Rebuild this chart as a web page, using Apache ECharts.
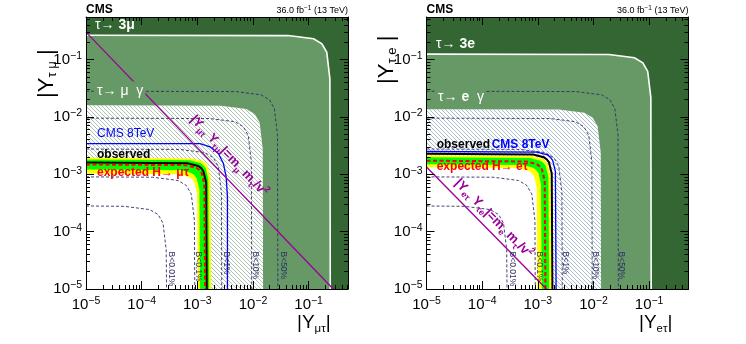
<!DOCTYPE html>
<html>
<head>
<meta charset="utf-8">
<script src="https://cdn.jsdelivr.net/npm/echarts@6.0.0/dist/echarts.min.js"></script>
<style>
html,body{margin:0;padding:0;background:#fff}
#main{width:746px;height:344px}
</style>
</head>
<body>
<div id="main"></div>
<script>
// axis ranges and tick labels
var XMIN = 1e-5, XMAX = 0.51, YMIN = 1e-5, YMAX = 0.55;
var majorTicks = [1e-5, 1e-4, 1e-3, 1e-2, 1e-1];

// branching-ratio contours (same in both panels)
var bNames = ['B<0.01%', 'B<0.1%', 'B<1%', 'B<10%', 'B<50%'];
var b0001 = [[1e-5,2.8e-4],[4.87e-5,2.76e-4],[1.4e-4,2.42e-4],[1.98e-4,1.98e-4],[2.42e-4,1.4e-4],[2.76e-4,4.87e-5],[2.8e-4,1e-5]];
var b001 = [[1e-5,9e-4],[1.57e-4,8.87e-4],[4.5e-4,7.79e-4],[6.36e-4,6.36e-4],[7.79e-4,4.5e-4],[8.87e-4,1.57e-4],[9e-4,1e-5]];
var b01 = [[1e-5,2.75e-3],[4.79e-4,2.71e-3],[1.375e-3,2.38e-3],[1.94e-3,1.94e-3],[2.38e-3,1.375e-3],[2.71e-3,4.79e-4],[2.75e-3,1e-5]];
var b10 = [[1e-5,9.5e-3],[1.65e-3,9.36e-3],[4.75e-3,8.23e-3],[6.72e-3,6.72e-3],[8.23e-3,4.75e-3],[9.36e-3,1.65e-3],[9.5e-3,1e-5]];
var b50 = [[1e-5,2.8e-2],[4.87e-3,2.76e-2],[1.4e-2,2.42e-2],[1.98e-2,1.98e-2],[2.42e-2,1.4e-2],[2.76e-2,4.87e-3],[2.8e-2,1e-5]];

// left panel: mu-tau
var mtTau3mu = [[1e-5,0.265],[0.043,0.261],[0.123,0.230],[0.173,0.187],[0.212,0.133],[0.241,0.046],[0.245,1e-5]];
var mtTauMuG = [[1e-5,0.0159],[2.64e-3,1.566e-2],[7.6e-3,1.377e-2],[1.075e-2,1.124e-2],[1.316e-2,7.95e-3],[1.497e-2,2.77e-3],[0.0152,1e-5]];
var mtCms8 = [[1e-5,3.43e-3],[1.12e-3,3.43e-3],[1.70e-3,2.99e-3],[2.39e-3,2.30e-3],[2.94e-3,1.54e-3],[3.30e-3,8.97e-4],[3.48e-3,4.02e-4],[3.48e-3,1e-5]];
var mtYelOut = [[1e-5,1.95e-3],[7.97e-4,1.89e-3],[1.24e-3,1.70e-3],[1.41e-3,1.55e-3],[1.54e-3,1.37e-3],[1.72e-3,8.78e-4],[1.77e-3,1e-5]];
var mtGrnOut = [[1e-5,1.80e-3],[7.34e-4,1.75e-3],[1.14e-3,1.57e-3],[1.29e-3,1.43e-3],[1.42e-3,1.26e-3],[1.58e-3,8.1e-4],[1.63e-3,1e-5]];
var mtObs = [[1e-5,1.60e-3],[6.66e-4,1.55e-3],[1.04e-3,1.39e-3],[1.18e-3,1.27e-3],[1.29e-3,1.12e-3],[1.44e-3,7.2e-4],[1.48e-3,1e-5]];
var mtExp = [[1e-5,1.48e-3],[6.21e-4,1.44e-3],[9.66e-4,1.29e-3],[1.10e-3,1.18e-3],[1.20e-3,1.04e-3],[1.34e-3,6.66e-4],[1.38e-3,1e-5]];
var mtGrnIn = [[1e-5,1.21e-3],[5.04e-4,1.17e-3],[7.84e-4,1.05e-3],[8.89e-4,9.61e-4],[9.74e-4,8.47e-4],[1.09e-3,5.45e-4],[1.12e-3,1e-5]];
var mtYelIn = [[1e-5,1.03e-3],[4.59e-4,9.99e-4],[7.14e-4,8.96e-4],[8.10e-4,8.18e-4],[8.87e-4,7.21e-4],[9.89e-4,4.64e-4],[1.02e-3,1e-5]];
var mtYukawa = [[1e-5,0.30],[0.277,1e-5]];

// right panel: e-tau
var etTau3e = [[1e-5,0.124],[0.019,0.122],[0.0545,0.1074],[0.0771,0.0877],[0.0944,0.062],[0.1074,0.0216],[0.109,1e-5]];
var etTauEG = [[1e-5,0.0136],[2.38e-3,1.34e-2],[6.85e-3,1.18e-2],[9.69e-3,9.62e-3],[1.19e-2,6.8e-3],[1.35e-2,2.37e-3],[0.0137,1e-5]];
var etCms8 = [[1e-5,2.49e-3],[9.59e-4,2.42e-3],[1.49e-3,2.17e-3],[1.69e-3,1.98e-3],[1.85e-3,1.74e-3],[2.07e-3,1.12e-3],[2.13e-3,1e-5]];
var etYelOut = [[1e-5,2.14e-3],[7.79e-4,2.08e-3],[1.21e-3,1.86e-3],[1.37e-3,1.70e-3],[1.51e-3,1.50e-3],[1.68e-3,9.63e-4],[1.73e-3,1e-5]];
var etGrnOut = [[1e-5,1.98e-3],[7.2e-4,1.92e-3],[1.12e-3,1.72e-3],[1.27e-3,1.57e-3],[1.39e-3,1.39e-3],[1.55e-3,8.91e-4],[1.60e-3,1e-5]];
var etObs = [[1e-5,2.28e-3],[8.24e-4,2.21e-3],[1.28e-3,1.98e-3],[1.45e-3,1.81e-3],[1.59e-3,1.60e-3],[1.78e-3,1.03e-3],[1.83e-3,1e-5]];
var etExp = [[1e-5,1.72e-3],[6.17e-4,1.67e-3],[9.59e-4,1.50e-3],[1.09e-3,1.37e-3],[1.19e-3,1.20e-3],[1.33e-3,7.74e-4],[1.37e-3,1e-5]];
var etGrnIn = [[1e-5,1.49e-3],[5.31e-4,1.45e-3],[8.26e-4,1.30e-3],[9.37e-4,1.18e-3],[1.03e-3,1.04e-3],[1.14e-3,6.71e-4],[1.18e-3,1e-5]];
var etYelIn = [[1e-5,1.32e-3],[4.43e-4,1.28e-3],[6.89e-4,1.15e-3],[7.81e-4,1.05e-3],[8.56e-4,9.24e-4],[9.54e-4,5.94e-4],[9.84e-4,1e-5]];
var etYukawa = [[1e-5,1.34e-3],[1.43e-3,1e-5]];

var FONT = '"Liberation Sans", Arial, Helvetica, sans-serif';
var DARK = '#336633', MID = '#669966', PURPLE = '#990099', NAVY = '#2e2e66';

var minorTicks = [];
majorTicks.forEach(function (d) {
	for (var m = 2; m <= 9; m++) {
		if (m * d < XMAX) minorTicks.push(m * d);
	}
});

function powLabel(v) {
	var e = Math.round(Math.log10(v));
	return '{b|10}{s|' + (e < 0 ? '\u2212' + (-e) : e) + '}';
}

function hatch(color) {
	var c = document.createElement('canvas');
	c.width = 4; c.height = 4;
	var g = c.getContext('2d');
	g.strokeStyle = color;
	g.lineWidth = 0.7;
	g.beginPath();
	g.moveTo(-1, -1); g.lineTo(5, 5);
	g.moveTo(-1, 3); g.lineTo(1, 5);
	g.moveTo(3, -1); g.lineTo(5, 1);
	g.stroke();
	return {image: c, repeat: 'repeat'};
}

/* four axes per side pair: bottom major, bottom minor, top major, top minor */
function axisSet(dim, g) {
	var pos = dim === 'x' ? ['bottom', 'top'] : ['left', 'right'];
	var list = [];
	pos.forEach(function (p, k) {
		[majorTicks, minorTicks].forEach(function (ticks, m) {
			list.push({
				type: 'log', gridIndex: g, position: p, z: 20,
				min: dim === 'x' ? XMIN : YMIN,
				max: dim === 'x' ? XMAX : YMAX,
				axisLine: {show: m === 0, onZero: false, lineStyle: {color: '#000', width: 1}},
				axisTick: {show: true, inside: true, length: m === 0 ? 8 : 4, customValues: ticks,
					lineStyle: {color: '#000', width: 1}},
				axisLabel: {
					show: k === 0 && m === 0, customValues: majorTicks, formatter: powLabel,
					margin: dim === 'x' ? 7 : 4, color: '#000',
					rich: {
						b: {fontSize: 15, lineHeight: 18, fontFamily: FONT, color: '#000'},
						s: {fontSize: 10.5, lineHeight: 11, verticalAlign: 'top', fontFamily: FONT, color: '#000'}
					}
				},
				splitLine: {show: false}
			});
		});
	});
	return list;
}

function shape(g, pts, kind, style, z) {
	return {
		type: 'custom', xAxisIndex: g * 4, yAxisIndex: g * 4, z: z, silent: true,
		data: pts, encode: {x: 0, y: 1},
		renderItem: function (params, api) {
			if (params.dataIndex !== 0) return;
			var xy = pts.map(function (p) { return api.coord(p); });
			if (kind === 'area') {
				xy.unshift(api.coord([XMIN, YMIN]));
				return {type: 'polygon', shape: {points: xy}, style: style};
			}
			return {type: 'polyline', shape: {points: xy}, style: style};
		}
	};
}

function panel(g, d) {
	var s = [];
	s.push(shape(g, d.outer, 'area', {fill: MID}, 1));
	s.push(shape(g, d.inner, 'area', {fill: '#fff'}, 2));
	s.push(shape(g, d.inner, 'area', {fill: hatch(d.hatchColor)}, 3));
	s.push(shape(g, d.yelOut, 'area', {fill: '#ffff00'}, 4));
	s.push(shape(g, d.grnOut, 'area', {fill: '#00ff00'}, 5));
	s.push(shape(g, d.grnIn, 'area', {fill: '#ffff00'}, 6));
	s.push(shape(g, d.yelIn, 'area', {fill: '#fff'}, 7));
	[b0001, b001, b01, b10, b50].forEach(function (b) {
		s.push(shape(g, b, 'line', {stroke: NAVY, lineWidth: 0.9, lineDash: [3, 2], fill: null}, 8));
	});
	s.push(shape(g, d.outer, 'line', {stroke: '#fff', lineWidth: 1.6, fill: null}, 9));
	s.push(shape(g, d.cms8, 'line', {stroke: '#0000ff', lineWidth: 1.3, fill: null}, 10));
	s.push(shape(g, d.obs, 'line', {stroke: '#000', lineWidth: 2, fill: null}, 11));
	s.push(shape(g, d.exp, 'line', {stroke: '#ff0000', lineWidth: 2, lineDash: [4, 2.5], fill: null}, 12));
	s.push(shape(g, d.yukawa, 'line', {stroke: PURPLE, lineWidth: 1.3, fill: null}, 13));
	return s;
}

var series = panel(0, {
	outer: mtTau3mu, inner: mtTauMuG, cms8: mtCms8, obs: mtObs, exp: mtExp,
	yelOut: mtYelOut, grnOut: mtGrnOut, grnIn: mtGrnIn, yelIn: mtYelIn,
	yukawa: mtYukawa, hatchColor: '#8aaa94'
}).concat(panel(1, {
	outer: etTau3e, inner: etTauEG, cms8: etCms8, obs: etObs, exp: etExp,
	yelOut: etYelOut, grnOut: etGrnOut, grnIn: etGrnIn, yelIn: etYelIn,
	yukawa: etYukawa, hatchColor: '#84a2b0'
}));

function txt(x, y, text, opt) {
	var st = {
		text: text, fill: opt.fill || '#000', fontFamily: FONT,
		fontSize: opt.size || 12, fontWeight: opt.bold ? 'bold' : 'normal',
		align: opt.align || 'left', verticalAlign: opt.valign || 'middle'
	};
	if (opt.rich) st.rich = opt.rich;
	if (opt.bg) { st.backgroundColor = opt.bg; st.padding = opt.pad || [0, 2]; }
	return {type: 'text', x: x, y: y, rotation: opt.rot || 0, z: 100, silent: true, style: st};
}

function titleRich(size) {
	return {
		m: {fontSize: size, lineHeight: size + 3, fontFamily: FONT, fill: '#000'},
		sub: {fontSize: size * 0.6, lineHeight: size * 0.6, verticalAlign: 'bottom', fontFamily: FONT, fill: '#000'}
	};
}
function labelRich(col, size) {
	return {
		m: {fontSize: size, lineHeight: size + 5, fontWeight: 'bold', fontFamily: FONT, fill: col},
		n: {fontSize: size, lineHeight: size + 5, fontFamily: FONT, fill: col},
		sub: {fontSize: size * 0.68, lineHeight: size * 0.68, verticalAlign: 'bottom', fontWeight: 'bold', fontFamily: FONT, fill: col},
		sup: {fontSize: size * 0.68, lineHeight: size * 0.68, verticalAlign: 'top', fontWeight: 'bold', fontFamily: FONT, fill: col}
	};
}
var lumiRich = {sup: {fontSize: 6.5, lineHeight: 7, verticalAlign: 'top', fontFamily: FONT, fill: '#000'},
	n: {fontSize: 9, lineHeight: 12, fontFamily: FONT, fill: '#000'}};

var graphics = [
	// headers
	txt(86, 10, 'CMS', {bold: true, size: 12}),
	txt(348, 10.5, '{n|36.0 fb}{sup|\u22121}{n| (13 TeV)}', {align: 'right', rich: lumiRich}),
	txt(426.5, 10, 'CMS', {bold: true, size: 12}),
	txt(688.5, 10.5, '{n|36.0 fb}{sup|\u22121}{n| (13 TeV)}', {align: 'right', rich: lumiRich}),
	// axis titles
	txt(297, 312, '{m||Y}{sub|\u03bc\u03c4}{m||}', {valign: 'top', rich: titleRich(19)}),
	txt(639, 312, '{m||Y}{sub|e\u03c4}{m||}', {valign: 'top', rich: titleRich(19)}),
	txt(34, 98, '{m||Y}{sub|\u03c4 \u03bc}{m| |}', {valign: 'top', rot: Math.PI / 2, rich: titleRich(22)}),
	txt(374, 84, '{m||Y}{sub|\u03c4 e}{m| |}', {valign: 'top', rot: Math.PI / 2, rich: titleRich(22)}),
	// process labels, left
	txt(95, 25, '{n|\u03c4\u2192 }{m|3\u03bc}', {rich: labelRich('#fff', 14)}),
	txt(95, 91, '{n|\u03c4\u2192 \u03bc  \u03b3}', {rich: labelRich('#fff', 14), bg: MID}),
	txt(97, 134, 'CMS 8TeV', {fill: '#0000ff', size: 12}),
	txt(97, 154.5, 'observed', {fill: '#000', size: 12, bold: true}),
	txt(97, 173, 'expected H\u2192 \u03bc\u03c4', {fill: '#ff0000', size: 12, bold: true}),
	txt(229, 156, '{m||Y}{sub|\u03bc\u03c4}{m| Y}{sub|\u03c4\u03bc}{m||=m}{sub|\u03bc}{m| m}{sub|\u03c4}{m|/v}{sup|2}',
		{align: 'center', rot: -0.81, rich: labelRich(PURPLE, 13)}),
	// process labels, right
	txt(436, 44.5, '{n|\u03c4\u2192 }{m|3e}', {rich: labelRich('#fff', 14)}),
	txt(436, 97, '{n|\u03c4\u2192 }{m|e}{n|  \u03b3}', {rich: labelRich('#fff', 14), bg: MID}),
	txt(436.7, 145, 'observed', {fill: '#000', size: 12, bold: true}),
	txt(491.7, 145, 'CMS 8TeV', {fill: '#0000ff', size: 12, bold: true}),
	txt(436.7, 166.7, 'expected H\u2192 e\u03c4', {fill: '#ff0000', size: 12, bold: true}),
	txt(493.5, 218.5, '{m||Y}{sub|e\u03c4}{m| Y}{sub|\u03c4e}{m||=m}{sub|e}{m| m}{sub|\u03c4}{m|/v}{sup|2}',
		{align: 'center', rot: -0.794, rich: labelRich(PURPLE, 13)})
];
// rotated branching-ratio labels
[171.5, 198.7, 226, 255.3, 283].forEach(function (x, i) {
	graphics.push(txt(x, 251.5, bNames[i], {fill: NAVY, size: 8.5, rot: -Math.PI / 2}));
});
[512.7, 539.3, 565.2, 595, 621.7].forEach(function (x, i) {
	graphics.push(txt(x, 251.5, bNames[i], {fill: NAVY, size: 8.5, rot: -Math.PI / 2}));
});

var chart = echarts.init(document.getElementById('main'), null, {renderer: 'canvas'});
chart.setOption({
	backgroundColor: '#fff',
	animation: false,
	textStyle: {fontFamily: FONT},
	grid: [
		{left: 86, top: 17, width: 262, height: 272, show: true, backgroundColor: DARK, borderWidth: 0},
		{left: 426.5, top: 17, width: 262, height: 272, show: true, backgroundColor: DARK, borderWidth: 0}
	],
	xAxis: axisSet('x', 0).concat(axisSet('x', 1)),
	yAxis: axisSet('y', 0).concat(axisSet('y', 1)),
	series: series,
	graphic: graphics
});
</script>
</body>
</html>
